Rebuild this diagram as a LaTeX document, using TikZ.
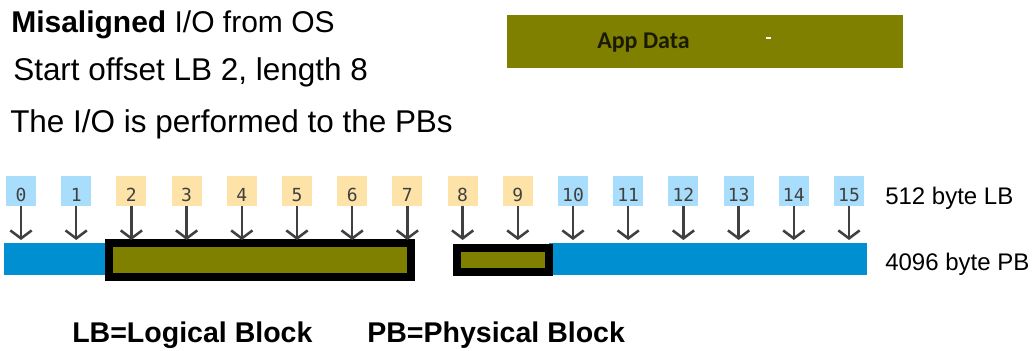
\documentclass[tikz,border=0pt]{standalone}
\usepackage{fontspec}
\setmainfont{Liberation Sans}
\newfontfamily\lbnumfont{DejaVu Sans Mono}
\newfontfamily\calfont{Carlito}
\usetikzlibrary{arrows.meta}
\definecolor{olivedata}{RGB}{128,128,0}
\definecolor{pbblue}{RGB}{0,143,208}
\definecolor{lbblue}{RGB}{168,222,252}
\definecolor{lborange}{RGB}{254,227,168}
\definecolor{arrowgray}{RGB}{64,64,64}

\begin{document}
\begin{tikzpicture}[x=0.75pt, y=-0.75pt, >={Straight Barb[length=6pt,width=16pt]},
  lbbox/.style={inner sep=0pt, minimum size=22.5pt, text height=16pt, text depth=0pt,
    font=\lbnumfont\fontsize{13.5}{14}\selectfont, text=arrowgray},
  lbarrow/.style={->, line width=1.9pt, draw=arrowgray},
  iobox/.style={draw=black, line width=6pt, fill=olivedata},
  toptext/.style={anchor=base west, inner sep=0pt, font=\fontsize{23.6}{25}\selectfont},
  sidetext/.style={anchor=base west, inner sep=0pt, font=\fontsize{18}{20}\selectfont},
  keytext/.style={anchor=base west, inner sep=0pt, font=\bfseries\fontsize{21.4}{24}\selectfont}]
  \useasboundingbox (0,0) rectangle (1034,350);

  % heading lines
  \node[toptext, font=\fontsize{22.5}{24}\selectfont] (head) at (11,32) {\textbf{Misaligned} I/O from OS};
  \node[toptext] (offs) at (13,80) {Start offset LB 2, length 8};
  \node[toptext] (perf) at (10,132) {The I/O is performed to the PBs};

  % application data
  \fill[olivedata] (507,15) rectangle (903,68);
  \fill[white] (766,37) rectangle (771,39);
  \node[anchor=base west, inner sep=0pt, text={rgb,255:red,26;green,26;blue,0},
    font=\calfont\bfseries\fontsize{18}{20}\selectfont] (app) at (597,48) {App Data};

  % physical blocks
  \fill[pbblue] (4,243) rectangle (109,275);
  \fill[pbblue] (549,243) rectangle (867,275);
  \draw[iobox] (109,243) rectangle (411,277);
  \draw[iobox] (457,248) rectangle (549,272);

  % logical blocks
  \foreach \i in {0,...,15} {
    \ifnum\i<2 \def\lbcol{lbblue}\else\ifnum\i>9 \def\lbcol{lbblue}\else\def\lbcol{lborange}\fi\fi
    \node[lbbox, fill=\lbcol] (lb\i) at (21+55.2*\i,191) {\i};
    \coordinate (tip\i) at (21+55.2*\i,240);
    \draw[lbarrow] (lb\i.south) -- (tip\i);
  }

  \node[sidetext] (lbsize) at (885,204) {512 byte LB};
  \node[sidetext] (pbsize) at (885,270) {4096 byte PB};

  \node[keytext] (lbkey) at (72,342) {LB=Logical Block};
  \node[keytext] (pbkey) at (367,342) {PB=Physical Block};
\end{tikzpicture}
\end{document}
